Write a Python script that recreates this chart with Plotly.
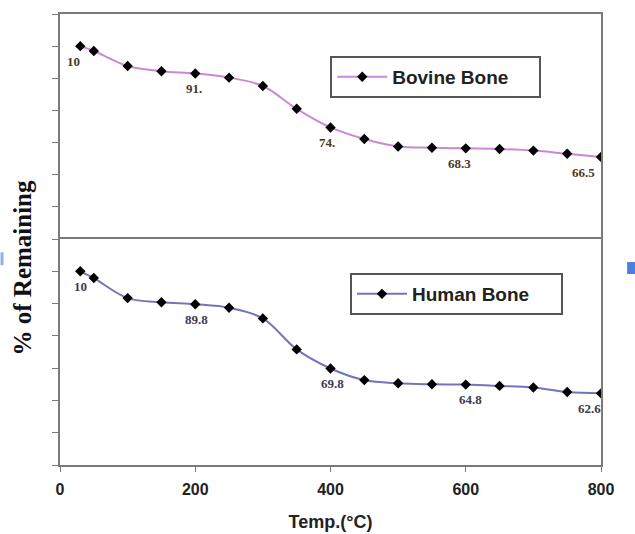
import plotly.graph_objects as go

temps = [30, 50, 100, 150, 200, 250, 300, 350, 400, 450, 500, 550, 600, 650, 700, 750, 800]
bovine = [100, 98.5, 93.8, 92.2, 91.5, 90.2, 87.6, 80.5, 74.7, 71.1, 68.8, 68.4, 68.2, 68.0, 67.5, 66.5, 65.5]
human = [100, 97.9, 91.7, 90.4, 89.8, 88.7, 85.4, 75.8, 69.9, 66.3, 65.3, 65.0, 64.9, 64.5, 64.0, 62.6, 62.2]

bovine_label_idx = [0, 4, 8, 12, 16]
bovine_labels = ["10", "91.", "74.", "68.3", "66.5"]
bovine_label_dx = [-7, -1, -4, -6, -18]
human_label_idx = [0, 4, 8, 12, 16]
human_labels = ["10", "89.8", "69.8", "64.8", "62.6"]
human_label_dx = [0, 1, 2, 5, -12]

x_ticks = [0, 200, 400, 600, 800]
y_ticks = [40, 50, 60, 70, 80, 90, 100, 110]

fig = go.Figure()
fig.add_trace(go.Scatter(
    x=temps, y=bovine, name="<b>Bovine Bone</b>", mode="lines+markers",
    line=dict(color="#cc88d8", width=2, shape="spline"),
    marker=dict(symbol="diamond", size=8, color="black"),
    xaxis="x2", yaxis="y2", legend="legend"))
fig.add_trace(go.Scatter(
    x=temps, y=human, name="<b>Human Bone</b>", mode="lines+markers",
    line=dict(color="#7474bc", width=2, shape="spline"),
    marker=dict(symbol="diamond", size=8, color="black"),
    xaxis="x", yaxis="y", legend="legend2"))

annotations = []
for i, t, dx in zip(bovine_label_idx, bovine_labels, bovine_label_dx):
    annotations.append(dict(x=temps[i], y=bovine[i], xref="x2", yref="y2", text="<b>" + t + "</b>",
                            showarrow=False, xshift=dx, yshift=-15,
                            font=dict(family="Liberation Serif", size=13, color="#4a3a22")))
for i, t, dx in zip(human_label_idx, human_labels, human_label_dx):
    annotations.append(dict(x=temps[i], y=human[i], xref="x", yref="y", text="<b>" + t + "</b>",
                            showarrow=False, xshift=dx, yshift=-15,
                            font=dict(family="Liberation Serif", size=13, color="#3e3a4e")))

annotations.append(dict(x=0, y=0.5, xref="paper", yref="paper", xanchor="center", yanchor="middle",
                        xshift=-38, yshift=-28, text="<b>% of Remaining</b>", textangle=-90,
                        showarrow=False,
                        font=dict(family="Liberation Serif", size=25, color="#111111")))

line_style = dict(showline=True, linecolor="#7a7a7a", linewidth=2, showgrid=False, zeroline=False)

split = 226 / 451
legend_common = dict(xanchor="left", yanchor="top", orientation="h",
                     bordercolor="#555555", borderwidth=2, bgcolor="white",
                     itemwidth=50,
                     font=dict(family="Arial", size=19, color="#222222"))
fig.update_layout(
    width=635, height=534,
    margin=dict(l=59.5, r=34, t=14, b=69, autoexpand=False),
    plot_bgcolor="white", paper_bgcolor="white",
    xaxis=dict(domain=[0, 1], range=[0, 800], tickvals=x_ticks, ticks="outside",
               ticklen=5, tickcolor="#7a7a7a", anchor="y", mirror=True,
               ticklabelstandoff=4, automargin=False,
               tickfont=dict(family="Arial", size=16, color="#222222", weight="bold"),
               title=dict(text="Temp.(°C)",
                          font=dict(family="Arial", size=18, color="#222222", weight="bold"),
                          standoff=18),
               **line_style),
    yaxis=dict(domain=[0, split], range=[40, 110], tickvals=y_ticks, ticks="outside",
               ticklen=6, tickcolor="#7a7a7a", showticklabels=False, anchor="x", mirror=True,
               automargin=False, **line_style),
    xaxis2=dict(domain=[0, 1], range=[0, 800], tickvals=x_ticks, showticklabels=False,
                ticks="", anchor="y2", matches="x", side="top", mirror=False,
                automargin=False, **line_style),
    yaxis2=dict(domain=[split, 1], range=[40, 110], tickvals=y_ticks, ticks="outside",
                ticklen=6, tickcolor="#7a7a7a", showticklabels=False, anchor="x2", mirror=True,
                automargin=False, **line_style),
    legend=dict(x=0.4995, y=0.907, entrywidth=142, **legend_common),
    legend2=dict(x=0.536, y=0.4257, entrywidth=144, **legend_common),
    annotations=annotations,
    shapes=[
        dict(type="rect", xref="paper", yref="paper", x0=1.0483, x1=1.0631, y0=0.4235, y1=0.45,
             fillcolor="#4a7fe0", line=dict(width=0)),
        dict(type="rect", xref="paper", yref="paper", x0=-0.1099, x1=-0.1044, y0=0.443, y1=0.4718,
             fillcolor="#8fb0e8", line=dict(width=0)),
    ],
    showlegend=True,
)

fig.write_html("out.html")
